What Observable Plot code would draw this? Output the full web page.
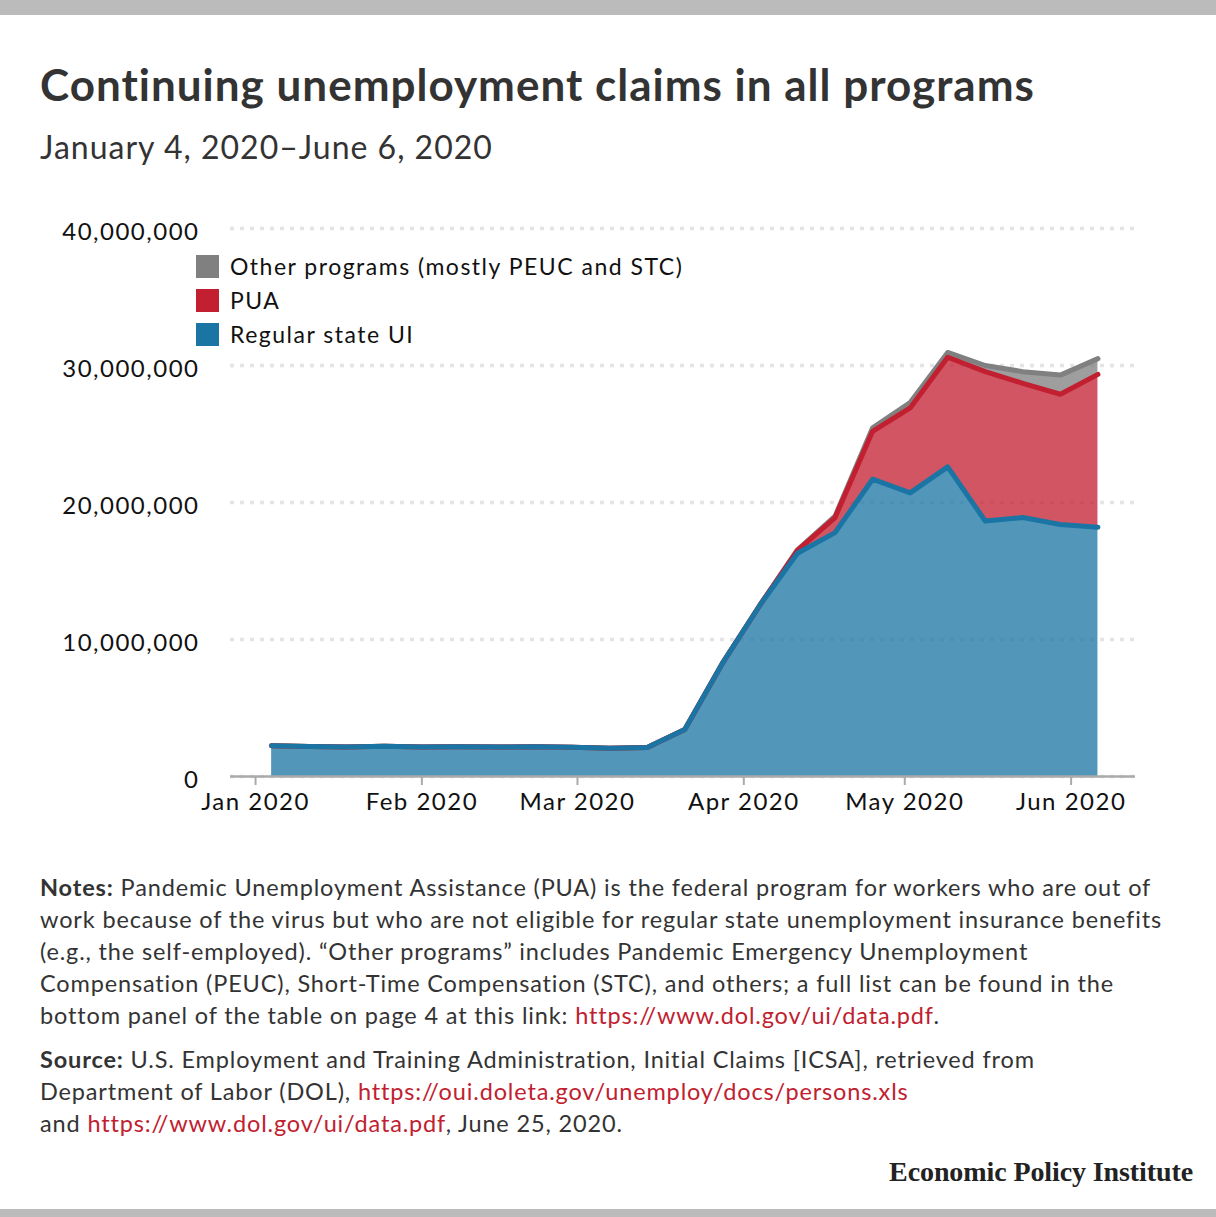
<!DOCTYPE html>
<html>
<head>
<meta charset="utf-8">
<script src="https://cdn.jsdelivr.net/npm/d3@7"></script>
<script src="https://cdn.jsdelivr.net/npm/@observablehq/plot@0.6"></script>
<style>
  html, body { margin: 0; padding: 0; background: #fff; }
  #page { position: relative; width: 1216px; height: 1217px; overflow: hidden; font-family: Lato, "Open Sans", sans-serif; color: #333; }
  .bar { position: absolute; left: 0; width: 1216px; background: #bbbbbb; }
  #title { position: absolute; left: 40px; top: 58px; font-size: 44px; letter-spacing: 1px; font-weight: 700; color: #333; white-space: nowrap; }
  #subtitle { position: absolute; left: 40px; top: 127px; font-size: 32px; letter-spacing: 1px; font-weight: 400; color: #333; white-space: nowrap; }
  #chart { position: absolute; left: 0; top: 200px; }
  #legend { position: absolute; left: 196px; top: 249px; font-size: 23px; letter-spacing: 1.5px; color: #111; }
  .li { display: flex; align-items: center; height: 34px; white-space: nowrap; }
  .sw { width: 23px; height: 23px; margin-right: 11px; }
  .notes { position: absolute; left: 40px; font-size: 23.5px; letter-spacing: 0.85px; line-height: 32px; color: #333; white-space: nowrap; }
  .notes b { font-weight: 700; }
  .notes a { color: #c1202f; text-decoration: none; }
  #epi { position: absolute; right: 23px; top: 1156px; font-family: "Liberation Serif", "DejaVu Serif", serif; font-weight: 700; font-size: 28px; color: #222; letter-spacing: -0.1px; }
</style>
</head>
<body>
<div id="page">
  <div class="bar" style="top:0;height:15px"></div>
  <div id="title">Continuing unemployment claims in all programs</div>
  <div id="subtitle">January 4, 2020–June 6, 2020</div>
  <div id="chart"></div>
  <div id="legend"></div>
  <div class="notes" style="top:871px"><b>Notes:</b> Pandemic Unemployment Assistance (PUA) is the federal program for workers who are out of<br>work because of the virus but who are not eligible for regular state unemployment insurance benefits<br>(e.g., the self-employed). “Other programs” includes Pandemic Emergency Unemployment<br>Compensation (PEUC), Short-Time Compensation (STC), and others; a full list can be found in the<br>bottom panel of the table on page 4 at this link: <a>https://www.dol.gov/ui/data.pdf</a>.</div>
  <div class="notes" style="top:1043px"><b>Source:</b> U.S. Employment and Training Administration, Initial Claims [ICSA], retrieved from<br>Department of Labor (DOL), <a>https://oui.doleta.gov/unemploy/docs/persons.xls</a><br>and <a>https://www.dol.gov/ui/data.pdf</a>, June 25, 2020.</div>
  <div id="epi">Economic Policy Institute</div>
  <div class="bar" style="top:1209px;height:8px"></div>
</div>
<script>
// ---- data (weeks ending) ----
const weeks = ["2020-01-04","2020-01-11","2020-01-18","2020-01-25","2020-02-01","2020-02-08","2020-02-15","2020-02-22","2020-02-29","2020-03-07","2020-03-14","2020-03-21","2020-03-28","2020-04-04","2020-04-11","2020-04-18","2020-04-25","2020-05-02","2020-05-09","2020-05-16","2020-05-23","2020-05-30","2020-06-06"];
const regularUI = [2240000,2190000,2150000,2200000,2160000,2170000,2150000,2180000,2140000,2070000,2120000,3430000,8250000,12500000,16300000,17800000,21700000,20700000,22600000,18650000,18900000,18400000,18200000];
const pua = [0,0,0,0,0,0,0,0,0,0,0,0,0,0,200000,1100000,3500000,6200000,8000000,10900000,9800000,9500000,11150000];
const otherPrograms = [0,0,0,0,0,0,0,0,0,0,0,0,0,20000,50000,100000,250000,400000,350000,450000,850000,1400000,1150000];
const seriesNames = ["Regular state UI", "PUA", "Other programs (mostly PEUC and STC)"];
const seriesColors = ["#1b75a4", "#c21f31", "#808080"];
const yTicks = [0, 10000000, 20000000, 30000000, 40000000];
const monthTicks = ["2020-01-01","2020-02-01","2020-03-01","2020-04-01","2020-05-01","2020-06-01"];

// ---- stacked table built from the arrays ----
const seriesValues = [regularUI, pua, otherPrograms];
const rows = [];
weeks.forEach((w, i) => {
  let base = 0;
  seriesValues.forEach((vals, s) => {
    const top = base + vals[i];
    rows.push({date: new Date(w + "T00:00:00Z"), series: seriesNames[s], y1: base, y2: top});
    base = top;
  });
});

const color = {domain: seriesNames, range: seriesColors};
const lineFor = name => Plot.lineY(rows.filter(d => d.series === name), {
  x: "date", y: "y2", stroke: "series", strokeWidth: 5, strokeLinejoin: "round", strokeLinecap: "round"
});

const chart = Plot.plot({
  width: 1216,
  height: 626,
  marginLeft: 230,
  marginRight: 81,
  marginTop: 28,
  marginBottom: 50,
  style: {fontFamily: "Lato, sans-serif", fontSize: "24px", letterSpacing: "1.5px", color: "#111", background: "transparent"},
  x: {type: "utc", domain: [new Date("2019-12-27T08:00:00Z"), new Date("2020-06-13T00:00:00Z")]},
  y: {domain: [0, 40000000]},
  color,
  marks: [
    Plot.ruleY(yTicks, {stroke: "#e4e4e4", strokeWidth: 3.5, strokeDasharray: "4,6"}),
    Plot.areaY(rows, {x: "date", y1: "y1", y2: "y2", fill: "series", fillOpacity: 0.76, curve: "linear"}),
    lineFor(seriesNames[2]),
    lineFor(seriesNames[1]),
    lineFor(seriesNames[0]),
    Plot.ruleY([0], {stroke: "#aaaaaa", strokeWidth: 2.5}),
    Plot.axisX({ticks: monthTicks.map(d => new Date(d + "T00:00:00Z")), tickFormat: d3.utcFormat("%b %Y"), tickSize: 9, tickPadding: 7, stroke: "#aaaaaa", strokeWidth: 2, fontSize: 24, fill: "#111", label: null}),
    Plot.axisY({ticks: yTicks, tickSize: 0, tickPadding: 31, tickFormat: d3.format(","), fontSize: 24, fill: "#111", label: null, dy: 4})
  ]
});
document.getElementById("chart").appendChild(chart);

// legend (top to bottom: Other, PUA, Regular)
const legend = document.getElementById("legend");
[2, 1, 0].forEach(s => {
  const item = document.createElement("div");
  item.className = "li";
  item.innerHTML = `<div class="sw" style="background:${seriesColors[s]}"></div><span>${seriesNames[s]}</span>`;
  legend.appendChild(item);
});
</script>
</body>
</html>
